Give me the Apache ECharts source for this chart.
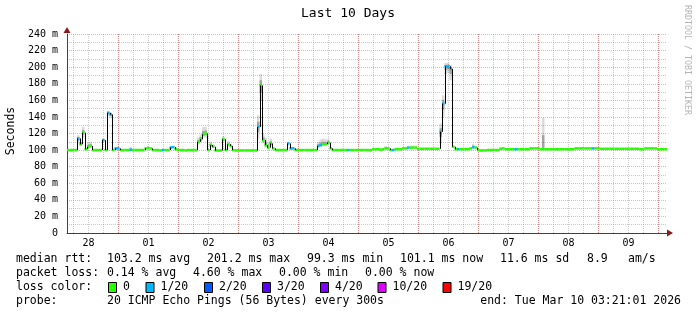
<!DOCTYPE html>
<html><head><meta charset="utf-8">
<script src="https://cdn.jsdelivr.net/npm/echarts@6/dist/echarts.min.js"></script>
<style>html,body{margin:0;padding:0;background:#fff}#c{width:697px;height:315px}</style>
</head><body><div id="c"></div>
<script>
// ---- data ----
const titleText = 'Last 10 Days';
const yAxisName = 'Seconds';
const watermark = 'RRDTOOL / TOBI OETIKER';
const startHour = 3 + 21 / 60 + 1 / 3600;   // Feb 28 03:21:01, hours since Feb 28 00:00
const spanHours = 240;                        // 10 days
const dayLabels = ['28', '01', '02', '03', '04', '05', '06', '07', '08', '09'];
const yMax = 240;
const yStep = 20;
// hourly median RTT (ms)
const median = [
  100,100,100,100,114,107,121,101,104,105,
  100,100,100,100,112,100,145,143,100,102,
  102,100,100,100,100,100.5,100,100,100,100,
  100,102,102.5,102,100,100,100,99.5,100,100,
  100,103,103.5,101,100,100,100,99.5,100,100,
  100,100,110,113,119,120,100,106,104,99.5,
  99.5,99.5,113,100,107,105,100,99.5,99.5,99.5,
  99.5,99.5,99.5,99.5,99.5,99.5,128,178,112,106,
  103,108,102,100,100,100,100,100,108,102,
  102,100,100,100,100,100,100,100,100,100,
  105,106,107,107,109,102,100,100,100,100,
  100,100,100,100,100,100,100,100,100,100,
  100,100,101,101,101,100.5,101,102,102,100,
  100,101,101,101,102,102,103,103,103,103,
  101.5,101.5,101.5,101.5,101.5,101.5,101.5,101.5,101.5,122,
  156,201,201,198,104,101,101,101,101,101,
  101,102,103.5,103,100,99.5,99.5,99.5,100,100,
  100,100,100,101.5,102,101,101,101,101,101,
  101,101,101,101,101,102,102,102,102,101,
  101,101,101,101,101,101,101,101,101,101,
  101,101,101,102,102,102,102,102,102,102,
  102,102,102,101.5,101.5,101.5,101.5,101.5,101.5,101.5,
  101.5,101.5,101.5,101.5,101.5,101.5,101.5,101.5,101.5,101,
  101,102,102,102,102,102,101,101,101,101
];
// hours with 1/20 packet loss
const lossHours = [4,14,16,17,19,20,25,38,41,42,76,88,89,90,100,101,112,130,136,149,150,151,152,153,156,162,179,210];
// smoke spread around median: [hour, above ms, below ms]
const smokeDefault = [1.5, 0.5];
const smokeSpread = [
  [4,4,6],[5,3,2],[6,7,6],[8,5,2],[9,5,2],[14,2,2],[16,2,4],[17,2,4],[25,3,0.5],
  [52,5,3],[53,6,3],[54,9,4],[55,8,5],[57,4,2],[58,3,1],[62,4,3],[64,4,2],
  [76,14,14],[77,14,18],[78,8,4],[79,9,3],[80,6,2],[81,6,3],
  [100,5,2],[101,7,2],[102,7,2],[103,6,2],[104,4,2],[127,3,1],
  [149,10,14],[150,10,16],[151,4,10],[152,4,8],[153,5,14],[162,4,2],[173,2,1],[190,38,1]
];
const lossLevels = ['0', '1/20', '2/20', '3/20', '4/20', '10/20', '19/20'];
const lossColors = ['#26ff00', '#00b8ff', '#0059ff', '#5e00ff', '#7e00ff', '#dd00ff', '#ff0000'];
const rttStats = ['103.2 ms avg', '201.2 ms max', '99.3 ms min', '101.1 ms now', '11.6 ms sd', '8.9', 'am/s'];
const lossStats = ['0.14 % avg', '4.60 % max', '0.00 % min', '0.00 % now'];
const probeText = '20 ICMP Echo Pings (56 Bytes) every 300s';
const endText = 'end: Tue Mar 10 03:21:01 2026';

// ---- build ----
const FONT = 'DejaVu Sans Mono';
const xMin = startHour, xMax = startHour + spanHours;
const lossSet = new Set(lossHours);
const smokeMap = {};
smokeSpread.forEach(s => smokeMap[s[0]] = [s[1], s[2]]);
const rows = median.map((v, h) => {
  const sp = smokeMap[h] || smokeDefault;
  return [xMin + h, v, lossSet.has(h) ? 1 : 0, sp[0], sp[1], h > 0 ? median[h - 1] : v];
});
const sixHour = [], dayBound = [], noon = [];
for (let t = 6; t < xMax; t += 6) sixHour.push(t);
for (let t = 24; t < xMax; t += 24) dayBound.push(t);
for (let d = 0; d < dayLabels.length; d++) noon.push(12 + 24 * d);

const G = { left: 67, top: 34, width: 600, height: 199 };
const baseX = { type: 'value', min: xMin, max: xMax, gridIndex: 0 };
const RED = 'rgba(225,0,0,0.32)';
const GRAY = 'rgba(128,128,128,0.42)';

const chart = echarts.init(document.getElementById('c'), null, { renderer: 'canvas' });
const gtext = (x, y, text, extra) => Object.assign({ type: 'text', x, y, style: Object.assign({ text, font: '11.5px "' + FONT + '"', fill: '#000', textVerticalAlign: 'middle' }, extra || {}) });

const graphics = [
  gtext(348, 14, titleText, { font: '13px "' + FONT + '"', textAlign: 'center' }),
  { type: 'text', x: 11, y: 131, rotation: Math.PI / 2, style: { text: yAxisName, font: '11.5px "' + FONT + '"', fill: '#000', textAlign: 'center', textVerticalAlign: 'middle' } },
  { type: 'text', x: 687, y: 60, rotation: -Math.PI / 2, style: { text: watermark, font: '8.3px "' + FONT + '"', fill: '#b4b4b4', textAlign: 'center', textVerticalAlign: 'middle' } },
  { type: 'polygon', shape: { points: [[63.5, 33], [70.5, 33], [67, 27]] }, style: { fill: '#8b1a1a' } },
  { type: 'polygon', shape: { points: [[667, 229.5], [667, 236.5], [673, 233]] }, style: { fill: '#8b1a1a' } },
  gtext(16, 259, 'median rtt:'),
  gtext(16, 273, 'packet loss:'),
  gtext(16, 287, 'loss color:'),
  gtext(16, 301, 'probe:'),
  gtext(107, 301, probeText),
  gtext(681, 301, endText, { textAlign: 'right' })
];
const rttX = [107, 207, 307, 400, 500, 587, 628];
rttStats.forEach((s, i) => graphics.push(gtext(rttX[i], 259, s)));
const lossX = [107, 193, 279, 365];
lossStats.forEach((s, i) => graphics.push(gtext(lossX[i], 273, s)));
const boxX = [108, 145.5, 204, 262, 320, 377.5, 442.5];
lossLevels.forEach((s, i) => {
  graphics.push({ type: 'rect', shape: { x: boxX[i] + 0.5, y: 282.5, width: 8, height: 10 }, style: { fill: lossColors[i], stroke: '#000', lineWidth: 1 } });
  graphics.push(gtext(boxX[i] + 15, 287, s));
});

const option = {
  backgroundColor: '#fff',
  animation: false,
  grid: Object.assign({ containLabel: false }, G),
  xAxis: [
    Object.assign({}, baseX, {
      position: 'bottom',
      axisLine: { show: true, onZero: false, lineStyle: { color: '#404040', width: 1 } },
      axisTick: { show: false, customValues: noon },
      axisLabel: { show: true, customValues: noon, margin: 5, fontFamily: FONT, fontSize: 10, color: '#000',
        formatter: v => dayLabels[Math.round((v - 12) / 24)] },
      splitLine: { show: false }
    }),
    Object.assign({}, baseX, {
      axisLine: { show: false }, axisLabel: { show: false },
      axisTick: { show: false, customValues: sixHour },
      splitLine: { show: true, lineStyle: { color: GRAY, type: [1, 1], width: 1 } }
    }),
    Object.assign({}, baseX, {
      axisLine: { show: false }, axisLabel: { show: false },
      axisTick: { show: false, customValues: dayBound },
      splitLine: { show: true, lineStyle: { color: RED, type: [1, 1], width: 1 } }
    })
  ],
  yAxis: [{
    type: 'value', min: 0, max: yMax, interval: yStep,
    axisLine: { show: true, onZero: false, lineStyle: { color: '#404040', width: 1 } },
    axisTick: { show: false },
    axisLabel: { margin: 9, fontFamily: FONT, fontSize: 10, color: '#000', formatter: v => v === 0 ? '0' : v + ' m' },
    splitLine: { show: true, lineStyle: { color: RED, type: [1, 1], width: 1 } },
    minorTick: { show: false, splitNumber: 2 },
    minorSplitLine: { show: true, lineStyle: { color: GRAY, type: [1, 1], width: 1 } }
  }],
  series: [
    { // smoke
      type: 'custom', xAxisIndex: 0, yAxisIndex: 0, clip: true, silent: true, z: 2,
      data: rows,
      renderItem(params, api) {
        const x0 = api.value(0), v = api.value(1), up = api.value(3), dn = api.value(4);
        const a = api.coord([x0, v + up]), b = api.coord([x0 + 1, v - dn]);
        const a2 = api.coord([x0, v + up * 0.45]), b2 = api.coord([x0 + 1, v - dn * 0.45]);
        return { type: 'group', children: [
          { type: 'rect', shape: { x: a[0], y: a[1], width: b[0] - a[0], height: b[1] - a[1] }, style: { fill: 'rgba(0,0,0,0.14)' } },
          { type: 'rect', shape: { x: a2[0], y: a2[1], width: b2[0] - a2[0], height: b2[1] - a2[1] }, style: { fill: 'rgba(0,0,0,0.25)' } }
        ] };
      }
    },
    { // median colored by loss
      type: 'custom', xAxisIndex: 0, yAxisIndex: 0, clip: true, silent: true, z: 3,
      data: rows,
      renderItem(params, api) {
        const x0 = api.value(0), v = api.value(1);
        const p0 = api.coord([x0, v]), p1 = api.coord([x0 + 1, v]);
        return { type: 'rect', shape: { x: p0[0], y: p0[1] - 1.25, width: p1[0] - p0[0], height: 2.5 }, style: { fill: lossColors[api.value(2)] } };
      }
    },
    { // black step risers
      type: 'custom', xAxisIndex: 0, yAxisIndex: 0, clip: true, silent: true, z: 4,
      data: rows,
      renderItem(params, api) {
        const x0 = api.value(0), v = api.value(1), pv = api.value(5);
        if (Math.abs(v - pv) < 2) return null;
        const p0 = api.coord([x0, pv]), p1 = api.coord([x0, v]);
        const x = Math.round(p0[0]) + 0.5;
        return { type: 'line', shape: { x1: x, y1: p0[1], x2: x, y2: p1[1] }, style: { stroke: '#000', lineWidth: 1 } };
      }
    }
  ],
  graphic: graphics
};
chart.setOption(option);
</script>
</body></html>
